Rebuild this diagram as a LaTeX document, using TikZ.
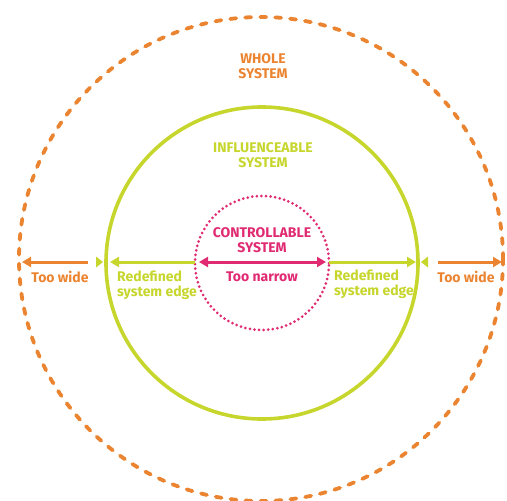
\documentclass[tikz,border=0pt]{standalone}
\usepackage{fontspec}
\setmainfont{Fira Sans}
\usetikzlibrary{arrows.meta}
\definecolor{sysorange}{HTML}{EB8430}
\definecolor{syslime}{HTML}{C6D62C}
\definecolor{syspink}{HTML}{E02A72}
\tikzset{
  lbl/.style={font=\fontsize{14}{15.5}\selectfont\bfseries, align=center, inner sep=0pt},
  lblL/.style={lbl, align=left, anchor=west},
  ringwhole/.style={circle, draw=sysorange, line width=3.8pt, dash pattern=on 6pt off 9pt, line cap=round, minimum size=484pt, inner sep=0pt},
  ringinfl/.style={circle, draw=syslime, line width=3.6pt, minimum size=312pt, inner sep=0pt},
  ringctrl/.style={circle, draw=syspink, line width=3pt, dash pattern=on 0pt off 4.6pt, line cap=round, minimum size=134pt, inner sep=0pt},
  arr/.style={line width=3pt, -{Triangle[length=9pt,width=10pt]}},
  tick/.style={fill=syslime, draw=none}
}
\begin{document}
\begin{tikzpicture}[x=1pt,y=-1pt]
\useasboundingbox (0,0) rectangle (507,501);
% three nested system boundaries
\node[ringwhole] (whole) at (261,259) {};
\node[ringinfl] (infl) at (262,263) {};
\node[ringctrl] (ctrl) at (262,263) {};
% titles
\node[lbl, text=sysorange] (tWhole) at (263,66) {WHOLE\\SYSTEM};
\node[lbl, text=syslime] (tInfl) at (263,155) {INFLUENCEABLE\\SYSTEM};
\node[lbl, text=syspink] (tCtrl) at (262,240) {CONTROLLABLE\\SYSTEM};
% arrow end points
\coordinate (oL0) at (88,262);
\coordinate (oL1) at (22,262);
\coordinate (oR0) at (438,262);
\coordinate (oR1) at (502,262);
\coordinate (gL0) at (195,262);
\coordinate (gL1) at (110,262);
\coordinate (gR0) at (329,262);
\coordinate (gR1) at (416,262);
\coordinate (pL) at (199,262);
\coordinate (pR) at (326,262);
% too wide
\draw[arr, draw=sysorange, fill=sysorange] (oL0) -- (oL1);
\draw[arr, draw=sysorange, fill=sysorange] (oR0) -- (oR1);
% redefined edge
\draw[arr, draw=syslime] (gL0) -- (gL1);
\draw[arr, draw=syslime] (gR0) -- (gR1);
\fill[tick] (96,256.5) -- (103,262) -- (96,267.5) -- cycle;
\fill[tick] (428,256.5) -- (421,262) -- (428,267.5) -- cycle;
% too narrow
\draw[line width=3pt, draw=syspink, {Triangle[length=9pt,width=10pt]}-{Triangle[length=9pt,width=10pt]}] (pL) -- (pR);
% labels
\node[lbl, text=sysorange] (wL) at (60,277) {Too wide};
\node[lbl, text=sysorange] (wR) at (466,277) {Too wide};
\node[lbl, text=syspink] (nar) at (262,277) {Too narrow};
\node[lblL, text=syslime] (eL) at (117,285) {Redefined\\system edge};
\node[lblL, text=syslime] (eR) at (334,284) {Redefined\\system edge};
\end{tikzpicture}
\end{document}
